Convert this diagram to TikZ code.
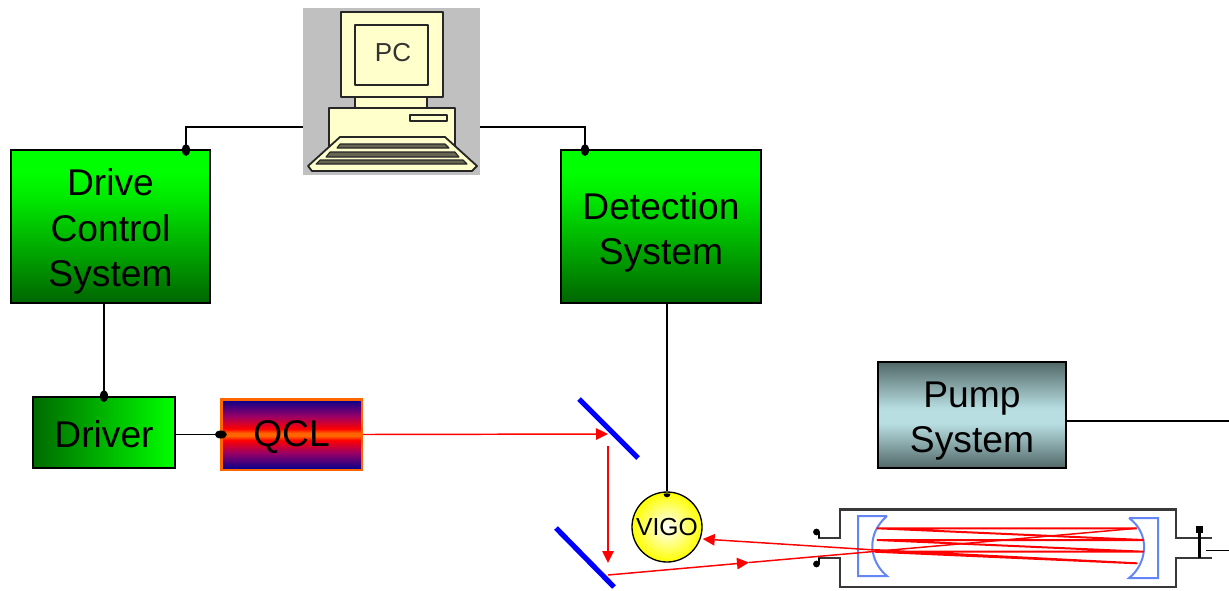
\documentclass[tikz,border=0pt]{standalone}
\usepackage{fontspec}
\setmainfont{Liberation Sans}
\usetikzlibrary{arrows.meta}
\definecolor{cream}{HTML}{FFFFCC}
\definecolor{pcgray}{HTML}{C0C0C0}
\definecolor{cellblue}{HTML}{6486F5}
\definecolor{qorange}{HTML}{FF6600}
\pgfdeclareverticalshading{greenv}{100bp}{color(0bp)=(green!40!black);color(25bp)=(green!40!black);color(60bp)=(green!92!black);color(68bp)=(green);color(100bp)=(green)}
\pgfdeclareverticalshading{qclv}{100bp}{color(0bp)=(blue!55!black);color(25bp)=(blue!55!black);color(37bp)=(purple!80!blue);color(46bp)=(red);color(49bp)=(qorange);color(51bp)=(qorange);color(54bp)=(red);color(63bp)=(purple!80!blue);color(75bp)=(blue!55!black);color(100bp)=(blue!55!black)}
\definecolor{pumpdark}{HTML}{526868}
\definecolor{pumplight}{HTML}{B8DEE2}
\pgfdeclareverticalshading{pumpv}{100bp}{color(0bp)=(pumpdark);color(25bp)=(pumpdark);color(46bp)=(pumplight);color(53bp)=(pumplight);color(75bp)=(pumpdark);color(100bp)=(pumpdark)}
\tikzset{
  bigtext/.style={font=\fontsize{27.9}{34.1}\selectfont,align=center,text=black},
  sysbox/.style={draw=black,line width=1.6pt,inner sep=0pt},
  greenbox/.style={sysbox,shading=greenv,minimum width=149.5pt,minimum height=114.25pt},
  wire/.style={draw=black,line width=1.05pt},
  dot/.style={fill=black},
  ray/.style={draw=red,line width=1.1pt},
  rayarrow/.style={ray,-{Triangle[length=9pt,width=8.5pt]}},
  cellray/.style={draw=red,line width=1.5pt,line join=round},
  mirror/.style={draw=blue,line width=3.9pt},
  celloutline/.style={draw=black!78,line width=1.9pt},
  cellmirror/.style={draw=cellblue,line width=1.5pt},
  pcpart/.style={draw=black!85,line width=1.35pt,fill=cream,line join=round},
  pcrow/.style={pcpart,fill=cream!40!black,line width=0.8pt},
}
\begin{document}
\begin{tikzpicture}[x=0.75pt,y=-0.75pt]
\useasboundingbox (0,0) rectangle (1229,590);

% computer
\node[fill=pcgray,minimum width=132.75pt,minimum height=125.25pt,inner sep=0pt] (pc) at (391.5,91.5) {};
\draw[pcpart] (341,12) rectangle (443,97);
\draw[pcpart] (355,25) rectangle (428,85);
\draw[pcpart] (355,97) rectangle (427,108);
\draw[pcpart] (329,108) rectangle (455,146);
\draw[pcpart] (410,115) rectangle (447,121);
\draw[pcpart] (340,137) -- (445,137) -- (477,166) -- (472,171) -- (312,171) -- (308,166) -- cycle;
\draw[pcrow] (340,144) -- (445,144) -- (449,148) -- (337,148) -- cycle;
\draw[pcrow] (330,152) -- (455,152) -- (459,157) -- (326,157) -- cycle;
\draw[pcrow] (320,160) -- (463,160) -- (467,164) -- (316,164) -- cycle;
\node[font=\fontsize{19.5}{22}\selectfont,text=black!80,inner sep=0pt] (pclabel) at (393,53) {PC};

% boxes
\node[greenbox,label={[bigtext,yshift=-3.75pt]center:Drive\\Control\\System}] (drive) at (110.5,226.5) {};
\node[greenbox,label={[bigtext,yshift=-4.5pt]center:Detection\\System}] (detect) at (661,226.5) {};
\node[sysbox,left color=green!42!black,right color=green,minimum width=106pt,minimum height=53pt,label={[bigtext,yshift=-1.5pt]center:Driver}] (driver) at (104,432.5) {};
\node[sysbox,draw=qorange,line width=2pt,shading=qclv,minimum width=105.5pt,minimum height=53pt,label={[bigtext,yshift=-2.25pt]center:QCL}] (qcl) at (291.5,434.5) {};
\node[sysbox,shading=pumpv,minimum width=141pt,minimum height=79.5pt,label={[bigtext,yshift=-4.5pt]center:Pump\\System}] (pump) at (972,415) {};
\node[circle,draw=black,line width=1pt,inner color=white,outer color=yellow,minimum size=52.5pt,inner sep=0pt,font=\fontsize{18.5}{20}\selectfont] (vigo) at (667,527) {VIGO};

% wires
\coordinate (pcwire) at (0,127);
\coordinate (drivetap) at (186,150);
\coordinate (detecttap) at (585,150);
\coordinate (pumpend) at (1229,421);
\draw[wire] (pc.west |- pcwire) -| (drivetap);
\draw[wire] (pc.east |- pcwire) -| (detecttap);
\draw[wire] (driver.north |- drive.south) -- (driver.north);
\draw[wire] (driver.east |- qcl.west) -- (qcl.west);
\draw[wire] (vigo.north |- detect.south) -- (vigo.north);
\draw[wire] (pumpend -| pump.east) -- (pumpend);
\fill[dot] (drivetap) ellipse (4 and 6);
\fill[dot] (detecttap) ellipse (4 and 6);
\fill[dot] (driver.north) ellipse (4 and 6);
\fill[dot] ([xshift=0.75pt]qcl.west) ellipse (6 and 4);
\fill[dot] ([yshift=-1.5pt]vigo.north) -- ++(-3.5,0.5) arc (180:0:3.5) -- cycle;

% mirrors
\coordinate (m1a) at (579,399); \coordinate (m1b) at (638,458);
\coordinate (m2a) at (556,528); \coordinate (m2b) at (614,587);
\draw[mirror] (m1a) -- (m1b);
\draw[mirror] (m2a) -- (m2b);

% cell
\draw[celloutline] (818,538) -- (840,538) -- (840,509.5) -- (1176,509.5) -- (1176,538) -- (1212,538);
\draw[celloutline] (818,558) -- (840,558) -- (840,587) -- (1176,587) -- (1176,558) -- (1212,558);
\draw[black,line width=1.5pt] (818.5,538) -- (818.5,532);
\draw[black,line width=1.5pt] (818.5,558) -- (818.5,564);
\fill[black] (816.5,532) circle (3.4);
\fill[black] (816.5,564) circle (3.4);
\draw[black,line width=1.7pt] (1199.5,529) -- (1199.5,558);
\fill[black] (1196,526) rectangle (1203,533);
\coordinate (cellout) at (1206,550.5);
\coordinate (cellend) at (1229,550.5);
\draw[wire] (cellout) -- (cellend);
\draw[cellmirror] (887,516) -- (858,516) -- (858,576) -- (887,576) .. controls (870,562) and (865,535) .. (887,516);
\draw[cellmirror] (1129,518) -- (1158,518) -- (1158,578) -- (1129,578) .. controls (1146,565) and (1152,535) .. (1129,518);

% beams
\coordinate (qclhit) at (608,434);
\coordinate (downstart) at (608,446);
\coordinate (downend) at (608,563);
\coordinate (m2hit) at (608,575);
\coordinate (midarrow) at (749,562.5);
\coordinate (p1) at (1136.7,528.3);
\coordinate (p2) at (877.3,528.3);
\coordinate (p3) at (1143.3,540);
\coordinate (p4) at (877.3,540);
\coordinate (p5) at (1143.3,551.7);
\coordinate (p6) at (875,551.7);
\coordinate (p7) at (1136.7,563.3);
\coordinate (p8) at (875,550);
\draw[rayarrow] (qcl.east) -- (qclhit);
\draw[rayarrow] (downstart) -- (downend);
\draw[rayarrow] (m2hit) -- (midarrow);
\draw[ray] (midarrow) -- (p1);
\draw[cellray] (p1) -- (p2) -- (p3) -- (p4) -- (p5) -- (p6) -- (p7) -- (p8);
\draw[rayarrow] (p8) -- (vigo.east |- 0,539);
\end{tikzpicture}
\end{document}
